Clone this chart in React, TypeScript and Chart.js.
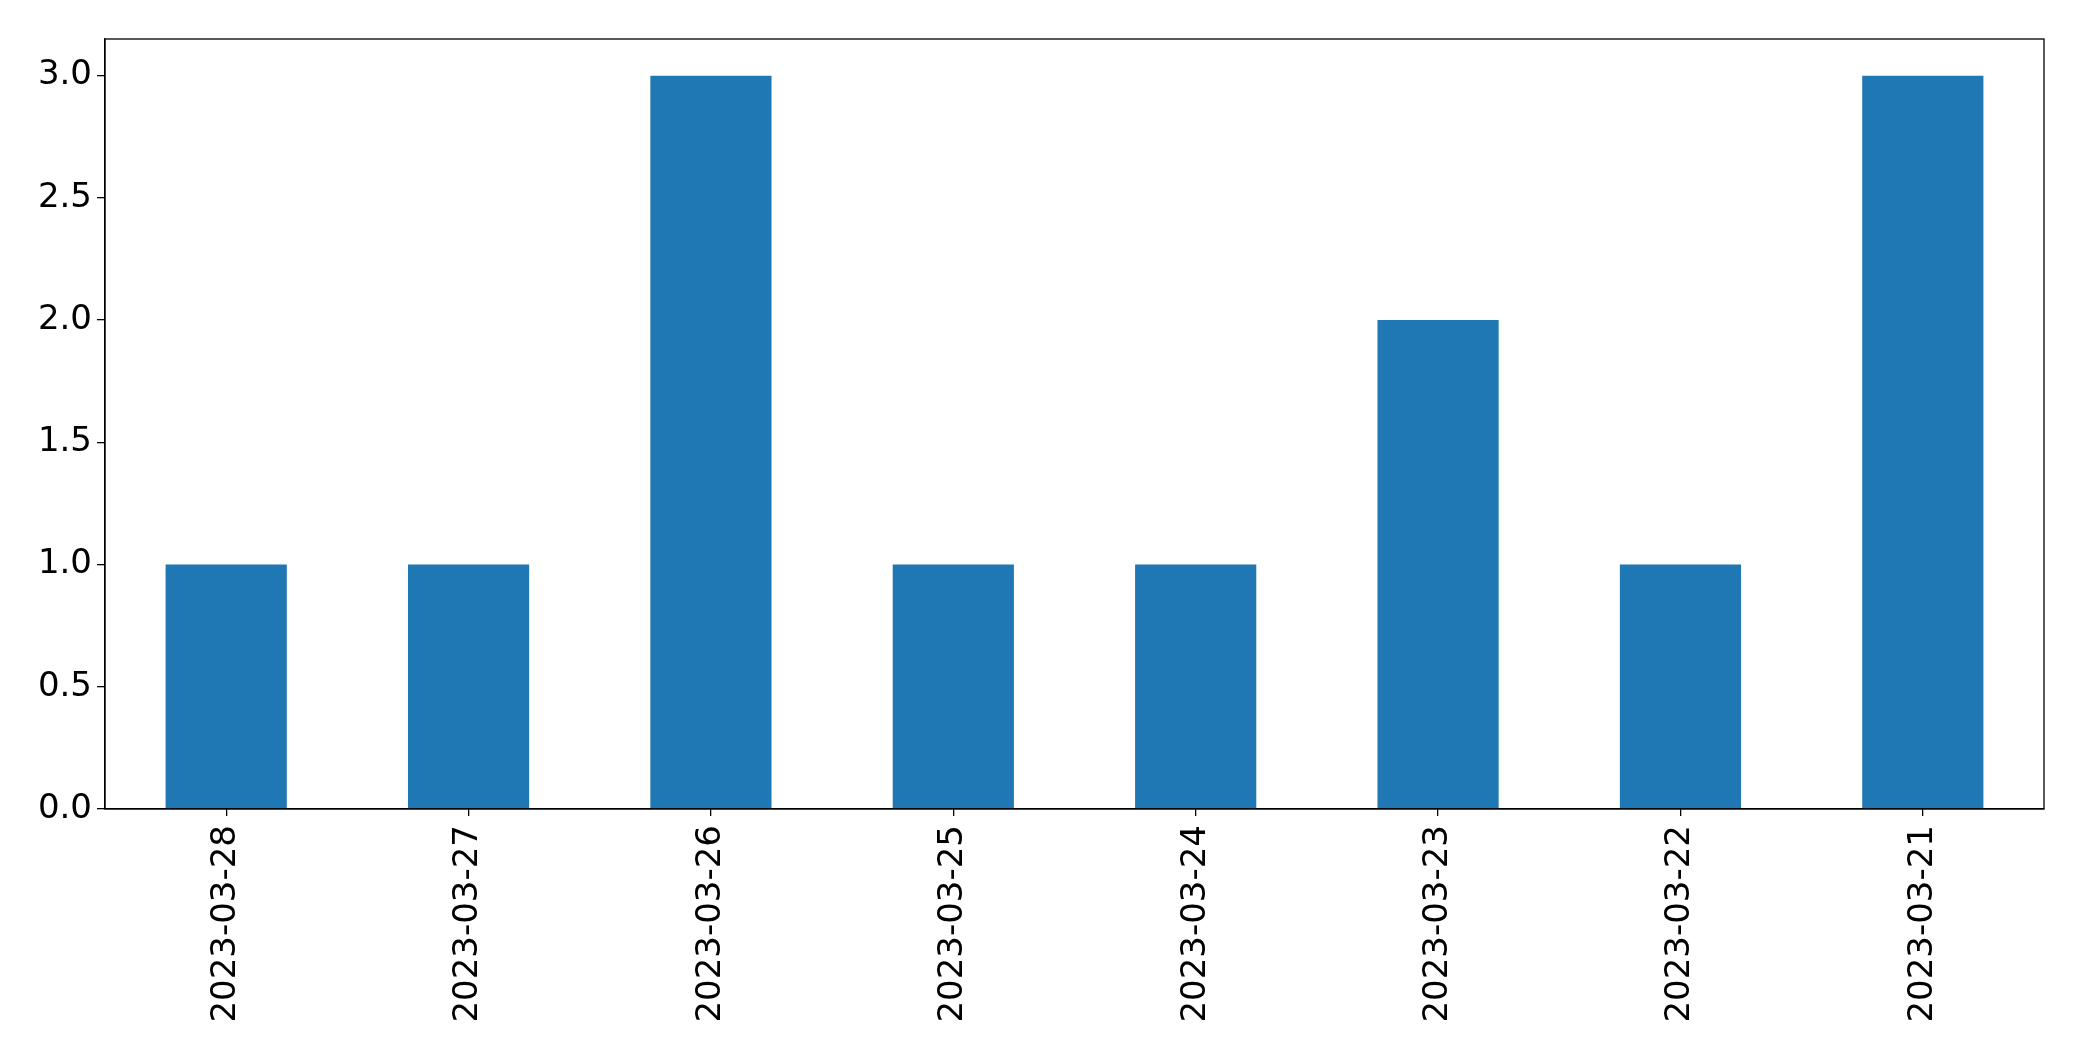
import React, { useEffect, useRef } from "react";
import { Chart, registerables } from "chart.js";

Chart.register(...registerables);

const categories = [
  "2023-03-28",
  "2023-03-27",
  "2023-03-26",
  "2023-03-25",
  "2023-03-24",
  "2023-03-23",
  "2023-03-22",
  "2023-03-21",
];
const counts = [1, 1, 3, 1, 1, 2, 1, 3];
const yTicks = [0, 0.5, 1.0, 1.5, 2.0, 2.5, 3.0];

const W = 2082;
const H = 1061;

const framePlugin = {
  id: "frame",
  afterDraw(chart: any) {
    const { ctx, chartArea } = chart;
    ctx.save();
    ctx.strokeStyle = "#000";
    ctx.lineWidth = 1.3;
    ctx.strokeRect(chartArea.left, chartArea.top, chartArea.right - chartArea.left, chartArea.bottom - chartArea.top);
    ctx.restore();
  },
};

export default function App() {
  const ref = useRef<HTMLCanvasElement | null>(null);
  useEffect(() => {
    if (!ref.current) return;
    const font = { family: "'DejaVu Sans', sans-serif", size: 34 };
    const chart = new Chart(ref.current, {
      type: "bar",
      data: {
        labels: categories,
        datasets: [
          {
            data: counts,
            backgroundColor: "#1f77b4",
            borderWidth: 0,
            barPercentage: 0.5,
            categoryPercentage: 1,
          },
        ],
      },
      options: {
        animation: false,
        responsive: false,
        maintainAspectRatio: false,
        devicePixelRatio: 1,
        layout: { padding: { left: 0, top: 39, right: 38, bottom: 0 } },
        plugins: { legend: { display: false }, tooltip: { enabled: false } },
        scales: {
          x: {
            offset: true,
            grid: { display: true, offset: false, drawOnChartArea: false, drawTicks: true, tickLength: 7, color: "#000", lineWidth: 1.3 },
            border: { display: true, color: "#000", width: 1.3 },
            ticks: { font, color: "#000", maxRotation: 90, minRotation: 90, padding: 9, autoSkip: false },
            afterFit: (s: any) => { s.height = 252; },
          },
          y: {
            min: 0,
            max: 3.15,
            grid: { display: true, drawOnChartArea: false, drawTicks: true, tickLength: 8, color: "#000", lineWidth: 1.3 },
            border: { display: true, color: "#000", width: 1.3 },
            ticks: {
              font,
              color: "#000",
              padding: 5,
              callback: (v: any) => Number(v).toFixed(1),
            },
            afterBuildTicks: (s: any) => { s.ticks = yTicks.map((v) => ({ value: v })); },
            afterFit: (s: any) => { s.width = 105; },
          },
        },
      },
      plugins: [framePlugin],
    });
    return () => chart.destroy();
  }, []);
  return (
    <div style={{ position: "fixed", left: 0, top: 0, width: W, height: H, background: "#fff" }}>
      <canvas ref={ref} width={W} height={H} style={{ width: W, height: H, display: "block" }} />
    </div>
  );
}
